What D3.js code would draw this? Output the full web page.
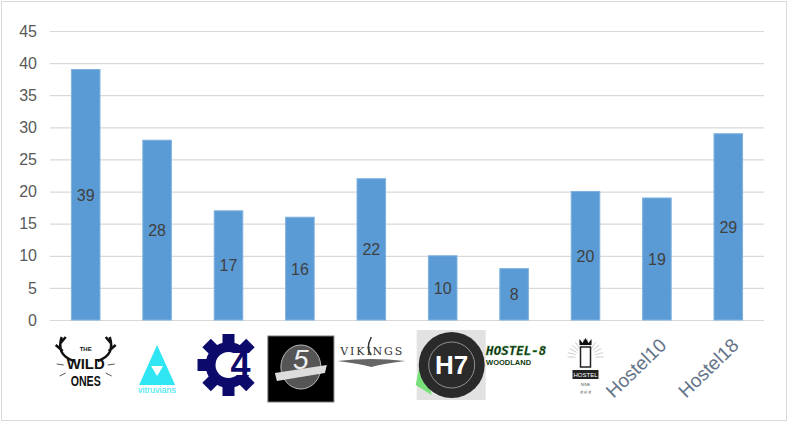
<!DOCTYPE html>
<html>
<head>
<meta charset="utf-8">
<script src="https://cdn.jsdelivr.net/npm/d3@7"></script>
<style>
  body { margin: 0; background: #fff; }
  svg { display: block; font-family: "Liberation Sans", Arial, sans-serif; }
</style>
</head>
<body>
<div id="chart"></div>
<script>
// hostels on the x axis (shown as logos in the original)
var hostels = ['The Wild Ones', 'Vitruvians', 'C4', 'Hostel 5', 'Vikings',
               'Hostel 7', 'Hostel-8 Woodland', 'Hostel 9', 'Hostel10', 'Hostel18'];
var counts = [39, 28, 17, 16, 22, 10, 8, 20, 19, 29];
var yTicks = [0, 5, 10, 15, 20, 25, 30, 35, 40, 45];

var width = 789, height = 424;
var margin = { top: 31, right: 25, bottom: 104, left: 50 };

var svg = d3.select('#chart').append('svg')
    .attr('width', width).attr('height', height);

// chart border
svg.append('rect')
    .attr('x', 1.5).attr('y', 1.5)
    .attr('width', 785).attr('height', 419)
    .attr('fill', '#fff').attr('stroke', '#d9d9d9');

var x = d3.scaleBand()
    .domain(hostels)
    .range([margin.left, width - margin.right])
    .paddingInner(0.6)
    .paddingOuter(0.3);

var y = d3.scaleLinear()
    .domain([0, 45])
    .range([height - margin.bottom, margin.top]);

// gridlines + tick labels
var yAxis = d3.axisLeft(y)
    .tickValues(yTicks)
    .tickSize(-(width - margin.right - margin.left))
    .tickPadding(13);

var gy = svg.append('g')
    .attr('transform', 'translate(' + margin.left + ',0)')
    .call(yAxis);
gy.select('.domain').remove();
gy.selectAll('line').attr('stroke', '#d9d9d9').attr('stroke-width', 1.2);
gy.selectAll('text')
    .attr('fill', '#595959')
    .style('font-size', '16px')
    .style('font-family', '"Liberation Sans", Arial, sans-serif');

// bars
svg.selectAll('.bar')
    .data(hostels)
    .enter()
    .append('rect')
    .attr('class', 'bar')
    .attr('x', function(d) { return x(d); })
    .attr('y', function(d, i) { return y(counts[i]); })
    .attr('width', x.bandwidth())
    .attr('height', function(d, i) { return y(0) - y(counts[i]); })
    .attr('fill', '#5b9bd5')
    .attr('stroke', '#7fb1e0')
    .attr('stroke-width', 1);

// value labels, centred in the bar
svg.selectAll('.lbl')
    .data(hostels)
    .enter()
    .append('text')
    .attr('class', 'lbl')
    .attr('x', function(d) { return x(d) + x.bandwidth() / 2; })
    .attr('y', function(d, i) { return (y(counts[i]) + y(0)) / 2; })
    .attr('dy', '0.38em')
    .attr('text-anchor', 'middle')
    .attr('fill', '#404040')
    .style('font-size', '16px')
    .text(function(d, i) { return counts[i]; });

// category "logos" - rough drawn stand-ins for the pictures
var logoY = 365;
function drawLogo(g, name) {
  switch (name) {
    case 'The Wild Ones':
      // antlers
      [-1, 1].forEach(function(s) {
        g.append('path')
          .attr('d', 'M' + (s * 12) + ',-4 C' + (s * 24) + ',-8 ' + (s * 28) + ',-16 ' + (s * 24) + ',-28'
                + ' M' + (s * 23) + ',-14 L' + (s * 30) + ',-20 M' + (s * 25) + ',-22 L' + (s * 20) + ',-28')
          .attr('fill', 'none').attr('stroke', '#111').attr('stroke-width', 2.5);
        g.append('line').attr('x1', s * 22).attr('y1', 0).attr('x2', s * 29).attr('y2', -1)
          .attr('stroke', '#555').attr('stroke-width', 1);
        g.append('line').attr('x1', s * 20).attr('y1', 8).attr('x2', s * 26).attr('y2', 11)
          .attr('stroke', '#555').attr('stroke-width', 1);
      });
      g.append('text').attr('y', -14).attr('text-anchor', 'middle')
        .style('font-size', '6px').style('font-weight', 'bold').attr('fill', '#111').text('THE');
      g.append('text').attr('y', 4).attr('text-anchor', 'middle')
        .style('font-size', '14px').style('font-weight', 'bold').attr('fill', '#111')
        .attr('textLength', 38).attr('lengthAdjust', 'spacingAndGlyphs').text('WILD');
      g.append('text').attr('y', 21).attr('text-anchor', 'middle')
        .style('font-size', '14px').style('font-weight', 'bold').attr('fill', '#111')
        .attr('textLength', 30).attr('lengthAdjust', 'spacingAndGlyphs').text('ONES');
      break;
    case 'Vitruvians':
      g.append('path').attr('d', 'M0,-20 L18,20 L-18,20 Z').attr('fill', '#2fe6f2');
      g.append('path').attr('d', 'M0,11 L6,1 L-6,1 Z').attr('fill', '#fff');
      g.append('text').attr('y', 28).attr('text-anchor', 'middle')
        .style('font-size', '9px').attr('fill', '#2fe6f2').text('vitruvians');
      break;
    case 'C4':
      var teeth = d3.range(8).map(function(k) { return k * 45; });
      g.selectAll('.tooth').data(teeth).enter().append('rect')
        .attr('x', -6).attr('y', -31).attr('width', 12).attr('height', 11)
        .attr('fill', '#0c0a6b')
        .attr('transform', function(a) { return 'rotate(' + a + ')'; });
      g.append('circle').attr('r', 23).attr('fill', '#0c0a6b');
      g.append('circle').attr('r', 13).attr('fill', '#fff');
      g.append('rect').attr('x', 2).attr('y', -12).attr('width', 30).attr('height', 22).attr('fill', '#fff');
      g.append('text').attr('x', 12).attr('y', 12).attr('text-anchor', 'middle')
        .style('font-size', '36px').style('font-weight', 'bold').attr('fill', '#0c0a6b').text('4');
      break;
    case 'Hostel 5':
      g.append('rect').attr('x', -33).attr('y', -31).attr('width', 66).attr('height', 66)
        .attr('fill', '#000').attr('stroke', '#777');
      g.append('ellipse').attr('rx', 20).attr('ry', 22).attr('fill', '#555').attr('stroke', '#bbb');
      g.append('path').attr('d', 'M-26,6 L26,-2 L24,6 L-24,14 Z').attr('fill', '#ddd');
      g.append('text').attr('y', 2).attr('text-anchor', 'middle')
        .style('font-size', '28px').style('font-style', 'italic').attr('fill', '#eee').text('5');
      break;
    case 'Vikings':
      g.append('text').attr('y', -2).attr('text-anchor', 'middle')
        .style('font-size', '11px').style('font-family', '"DejaVu Serif", serif')
        .attr('fill', '#333').attr('textLength', 62).text('VIKINGS');
      g.append('path').attr('d', 'M-34,4 Q0,0 34,4 Q10,7 0,10 Q-10,7 -34,4 Z').attr('fill', '#666');
      g.append('path').attr('d', 'M0,-20 Q-6,-8 0,-2').attr('fill', 'none').attr('stroke', '#333').attr('stroke-width', 1.5);
      break;
    case 'Hostel 7':
      g.append('rect').attr('x', -35).attr('y', -35).attr('width', 69).attr('height', 70).attr('fill', '#e2e2e2');
      g.append('path').attr('d', 'M-30,-10 L-36,20 L-20,30 Z').attr('fill', '#7ae07a');
      g.append('circle').attr('r', 33).attr('fill', '#2a2a2a');
      g.append('circle').attr('r', 23).attr('fill', 'none').attr('stroke', '#aaa').attr('stroke-width', 0.8);
      g.append('text').attr('y', 9).attr('text-anchor', 'middle')
        .style('font-size', '26px').style('font-weight', 'bold').attr('fill', '#fff').text('H7');
      break;
    case 'Hostel-8 Woodland':
      g.append('text').attr('x', -30).attr('y', -10)
        .style('font-size', '12.5px').style('font-weight', 'bold').style('font-style', 'italic')
        .style('font-family', '"DejaVu Sans Mono", monospace')
        .attr('fill', '#0f2a0f').attr('stroke', '#3a9a3a').attr('stroke-width', 0.3).text('HOSTEL-8');
      g.append('text').attr('x', -30).attr('y', 0)
        .style('font-size', '7.5px').style('font-weight', 'bold')
        .attr('fill', '#0f3a0f').text('WOODLAND');
      break;
    case 'Hostel 9':
      d3.range(14).forEach(function(k) {
        var a = Math.PI + k * Math.PI / 13;
        g.append('line')
          .attr('x1', 10 * Math.cos(a)).attr('y1', -8 + 10 * Math.sin(a))
          .attr('x2', 18 * Math.cos(a)).attr('y2', -8 + 18 * Math.sin(a))
          .attr('stroke', '#aaa').attr('stroke-width', 0.6);
      });
      g.append('path').attr('d', 'M-6,-20 L-6,-26 L-3,-22 L0,-27 L3,-22 L6,-26 L6,-20 Z').attr('fill', '#111');
      g.append('rect').attr('x', -5).attr('y', -18).attr('width', 10).attr('height', 20)
        .attr('fill', 'none').attr('stroke', '#222').attr('stroke-width', 1.5);
      g.append('rect').attr('x', -13).attr('y', 5).attr('width', 26).attr('height', 9).attr('fill', '#222');
      g.append('text').attr('y', 12).attr('text-anchor', 'middle')
        .style('font-size', '6px').attr('fill', '#fff').text('HOSTEL');
      g.append('text').attr('y', 21).attr('text-anchor', 'middle')
        .style('font-size', '4px').attr('fill', '#555').text('NINE');
      g.append('text').attr('y', 29).attr('text-anchor', 'middle')
        .style('font-size', '4px').attr('fill', '#555').text('नौ से नौ');
      break;
    default:
      g.append('text').attr('text-anchor', 'middle').attr('dy', '0.35em')
        .attr('transform', 'rotate(-44)')
        .style('font-size', '19px')
        .attr('fill', '#64748a').text(name);
  }
}

// small nudges so each stand-in sits where the original picture sits
var logoShift = {
  'Hostel 5': [1, 2],
  'Vikings': [0, -8],
  'Hostel 7': [9, 0],
  'Hostel-8 Woodland': [2, 0],
  'Hostel10': [-21, 3],
  'Hostel18': [-20, 3]
};

var logos = svg.selectAll('.logo')
    .data(hostels)
    .enter()
    .append('g')
    .attr('class', 'logo')
    .attr('transform', function(d) {
      var s = logoShift[d] || [0, 0];
      return 'translate(' + (x(d) + x.bandwidth() / 2 + s[0]) + ',' + (logoY + s[1]) + ')';
    });

logos.each(function(d) { drawLogo(d3.select(this), d); });
</script>
</body>
</html>
